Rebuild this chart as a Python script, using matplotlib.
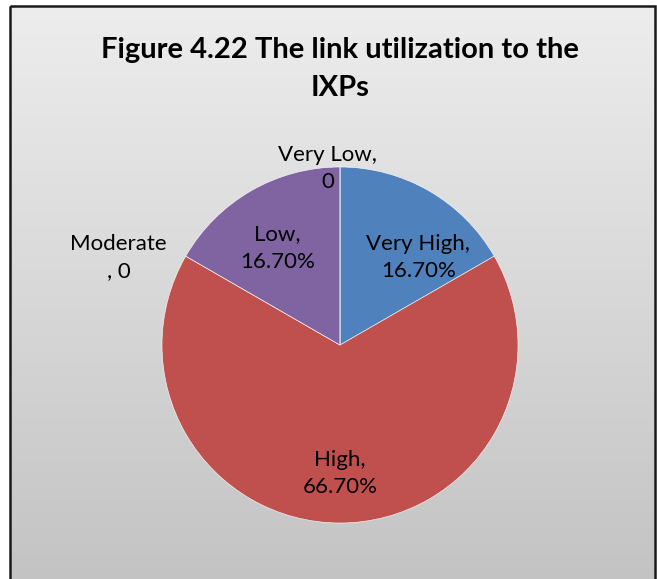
import numpy as np
import matplotlib.pyplot as plt
from matplotlib.patches import Rectangle
from matplotlib.colors import LinearSegmentedColormap

# data
categories = ['Very High', 'High', 'Moderate', 'Low', 'Very Low']
shares = [16.7, 66.7, 0, 16.7, 0]
label_texts = ['Very High,\n16.70%', 'High,\n66.70%', 'Moderate\n, 0', 'Low,\n16.70%', 'Very Low,\n0']
colors = ['#4F81BD', '#C0504D', '#9BBB59', '#8064A2', '#4BACC6']

W, H = 657, 579
fig = plt.figure(figsize=(W / 100, H / 100), dpi=100)
fig.patch.set_facecolor('white')

# background with vertical gradient and frame
bg = fig.add_axes([0, 0, 1, 1])
bg.set_xlim(0, W)
bg.set_ylim(H, 0)
bg.axis('off')
grad = np.linspace(0, 1, 256).reshape(-1, 1)
bg.imshow(grad, cmap=LinearSegmentedColormap.from_list('g', ['#EDEDED', '#C3C3C3']),
          extent=[10, 655, H + 5, 6], aspect='auto', zorder=0)
bg.add_patch(Rectangle((10, 6), 645, H + 10, fill=False, edgecolor='#1a1a1a', linewidth=1.8, zorder=1))

bg.text(340, 50, 'Figure 4.22 The link utilization to the', ha='center', va='center',
        fontsize=21, fontweight='bold', family='Lato', color='black')
bg.text(340, 88, 'IXPs', ha='center', va='center',
        fontsize=21, fontweight='bold', family='Lato', color='black')

# pie
cx, cy, r = 340, 345, 178
ax = fig.add_axes([(cx - r) / W, 1 - (cy + r) / H, 2 * r / W, 2 * r / H])
ax.pie(shares, colors=colors, startangle=90, counterclock=False, radius=1,
       wedgeprops=dict(edgecolor='white', linewidth=0.4))
ax.set_xlim(-1, 1)
ax.set_ylim(-1, 1)
ax.set_aspect('equal')
ax.axis('off')

# label positions in pie radius units
label_pos = [(0.44, 0.49), (0.0, -0.72), (-1.245, 0.49), (-0.35, 0.545), (-0.07, 0.99)]
for txt, (lx, ly) in zip(label_texts, label_pos):
    ax.text(lx, ly, txt, ha='center', va='center', fontsize=16, family='Lato',
            color='black', linespacing=1.45, clip_on=False)

fig.savefig('out.png', dpi=100)
